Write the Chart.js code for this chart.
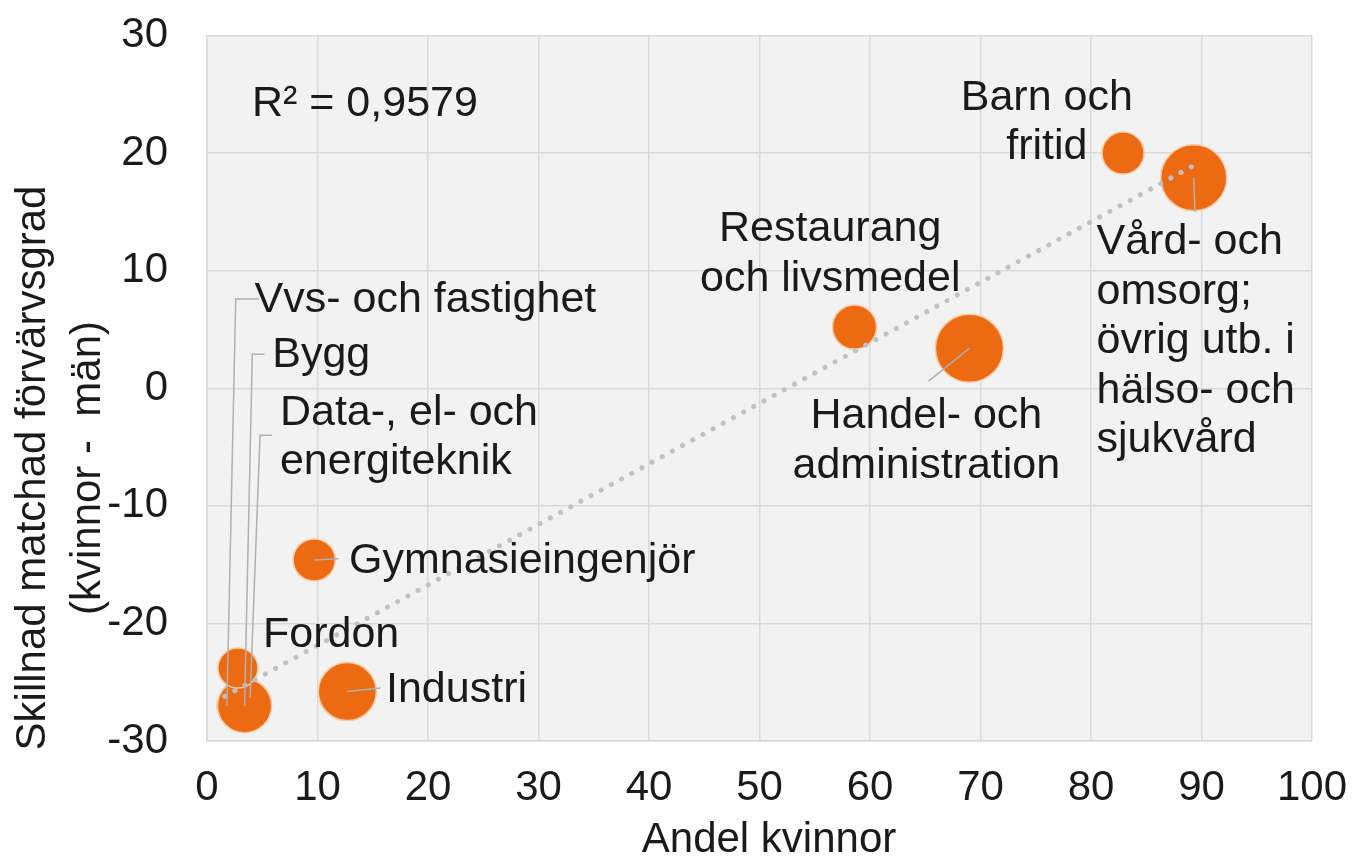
<!DOCTYPE html>
<html>
<head>
<meta charset="utf-8">
<script src="https://cdn.jsdelivr.net/npm/chart.js@4"></script>
<style>
  body { margin: 0; background: #fff; }
  #wrap { width: 1354px; height: 862px; }
</style>
</head>
<body>
<div id="wrap"><canvas id="chart"></canvas></div>
<script>
// data
const categories = [
  "Vvs- och fastighet",
  "Data-, el- och energiteknik",
  "Bygg",
  "Fordon",
  "Industri",
  "Gymnasieingenjör",
  "Restaurang och livsmedel",
  "Handel- och administration",
  "Barn och fritid",
  "Vård- och omsorg; övrig utb. i hälso- och sjukvård",
];
const andelKvinnor = [1.8, 3.9, 3.4, 2.8, 12.7, 9.7, 58.6, 69.0, 82.9, 89.3];
const skillnad = [-27.0, -26.3, -27.0, -23.8, -25.8, -14.6, 5.2, 3.4, 20.0, 17.9];
const bubbleSize = [10, 14, 27, 20, 29, 21, 22, 34, 21, 33];

// trend line end points as seen in the picture
const trendX = [1.6, 89.4];
const trendY = [-26.2, 19.0];

const xTicks = [0, 10, 20, 30, 40, 50, 60, 70, 80, 90, 100];
const yTicks = [-30, -20, -10, 0, 10, 20, 30];

const FONT = "'Liberation Sans', Arial, sans-serif";
const textColor = "#1a1a1a";

// label layout (data coordinates), leader = optional path to the bubble
const labels = [
  { text: ["R² = 0,9579"], x: 4.07, y: 24.2, align: "left" },
  { text: ["Barn och", "fritid"], x: 76.0, y: 24.7, align: "center" },
  { text: ["Vård- och", "omsorg;", "övrig utb. i", "hälso- och", "sjukvård"], x: 80.5, y: 12.4, align: "left", point: 9, leader: [[89.4, 15.0]] },
  { text: ["Restaurang", "och livsmedel"], x: 56.4, y: 13.5, align: "center" },
  { text: ["Handel- och", "administration"], x: 65.1, y: -2.4, align: "center", point: 7, leader: [[65.3, 0.6]] },
  { text: ["Vvs- och fastighet"], x: 4.3, y: 7.5, align: "left", point: 0, leader: [[4.7, 7.6], [2.6, 7.6]] },
  { text: ["Bygg"], x: 5.9, y: 2.8, align: "left", point: 2, leader: [[5.2, 2.9], [4.1, 2.9]] },
  { text: ["Data-, el- och", "energiteknik"], x: 6.6, y: -2.1, align: "left", point: 1, leader: [[5.9, -4.0], [4.8, -4.0]] },
  { text: ["Gymnasieingenjör"], x: 12.85, y: -14.7, align: "left", point: 5, leader: [[11.9, -14.5]] },
  { text: ["Fordon"], x: 5.07, y: -21.0, align: "left" },
  { text: ["Industri"], x: 16.2, y: -25.7, align: "left", point: 4, leader: [[15.7, -25.5]] },
];

const bubbles = [];
for (let i = 0; i < categories.length; i++) {
  bubbles.push({ x: andelKvinnor[i], y: skillnad[i], r: bubbleSize[i] });
}
const trend = [];
for (let i = 0; i < trendX.length; i++) {
  trend.push({ x: trendX[i], y: trendY[i] });
}

const plotBackground = {
  id: "plotBackground",
  beforeDraw(chart) {
    const a = chart.chartArea;
    const c = chart.ctx;
    c.save();
    c.fillStyle = "#F2F2F2";
    c.fillRect(a.left, a.top, a.right - a.left, a.bottom - a.top);
    c.restore();
  },
};

const annotations = {
  id: "annotations",
  afterDraw(chart) {
    const c = chart.ctx;
    const xs = chart.scales.x;
    const ys = chart.scales.y;
    c.save();

    // leader lines
    c.strokeStyle = "#B0B0B0";
    c.lineWidth = 1.5;
    labels.forEach((lb) => {
      if (!lb.leader) return;
      c.beginPath();
      lb.leader.forEach((p, k) => {
        const px = xs.getPixelForValue(p[0]);
        const py = ys.getPixelForValue(p[1]);
        if (k === 0) c.moveTo(px, py);
        else c.lineTo(px, py);
      });
      c.lineTo(xs.getPixelForValue(andelKvinnor[lb.point]), ys.getPixelForValue(skillnad[lb.point]));
      c.stroke();
    });

    // data labels
    c.fillStyle = textColor;
    c.font = "43px " + FONT;
    c.textBaseline = "middle";
    labels.forEach((lb) => {
      c.textAlign = lb.align;
      const px = xs.getPixelForValue(lb.x);
      const py = ys.getPixelForValue(lb.y);
      lb.text.forEach((line, k) => {
        c.fillText(line, px, py + k * 49.5);
      });
    });

    // axis titles
    c.font = "42px " + FONT;
    c.textAlign = "center";
    c.fillText("Andel kvinnor", 769, 840);
    c.translate(0, 468);
    c.rotate(-Math.PI / 2);
    c.fillText("Skillnad matchad förvärvsgrad", 0, 33);
    c.fillText("(kvinnor -  män)", 0, 88);
    c.restore();
  },
};

new Chart(document.getElementById("chart"), {
  data: {
    datasets: [
      {
        type: "line",
        label: "Trend",
        data: trend,
        borderColor: "#BCC2C9",
        borderWidth: 5,
        borderDash: [0.1, 11.5],
        borderCapStyle: "round",
        pointRadius: 0,
        fill: false,
        order: 0,
      },
      {
        type: "bubble",
        label: "Utbildning",
        data: bubbles,
        backgroundColor: "#EC6A12",
        borderColor: "#F8C9A2",
        borderWidth: 1.5,
        hoverRadius: 0,
        order: 1,
      },
    ],
  },
  options: {
    responsive: true,
    maintainAspectRatio: false,
    animation: false,
    layout: { padding: { top: 29, right: 42, left: 0, bottom: 0 } },
    plugins: { legend: { display: false }, tooltip: { enabled: false } },
    scales: {
      x: {
        type: "linear",
        min: 0,
        max: 100,
        afterBuildTicks: (s) => { s.ticks = xTicks.map((v) => ({ value: v })); },
        afterFit: (s) => {
          s.height = 121;
          s.paddingLeft = 0;
          s.paddingRight = 0;
        },
        grid: { color: "#D9D9D9", lineWidth: 1.5, drawTicks: false },
        border: { color: "#D9D9D9", width: 1.5 },
        ticks: { padding: 22, color: textColor, font: { family: FONT, size: 42 }, maxRotation: 0 },
      },
      y: {
        type: "linear",
        min: -30,
        max: 30,
        afterBuildTicks: (s) => { s.ticks = yTicks.map((v) => ({ value: v })); },
        afterFit: (s) => {
          s.width = 207;
          s.paddingTop = 0;
          s.paddingBottom = 0;
        },
        grid: { color: "#D9D9D9", lineWidth: 1.5, drawTicks: false },
        border: { color: "#D9D9D9", width: 1.5 },
        ticks: { padding: 39, color: textColor, font: { family: FONT, size: 42 } },
      },
    },
  },
  plugins: [plotBackground, annotations],
});
</script>
</body>
</html>
